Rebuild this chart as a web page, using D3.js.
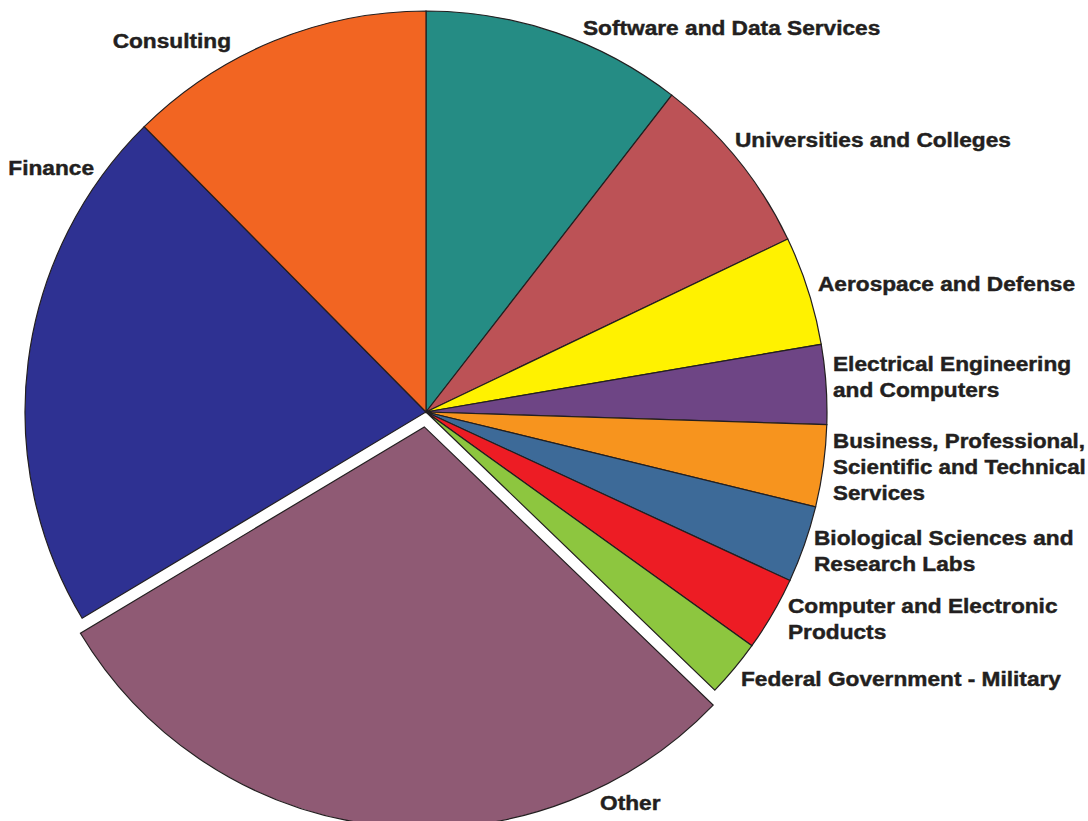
<!DOCTYPE html>
<html>
<head>
<meta charset="utf-8">
<script src="https://cdn.jsdelivr.net/npm/d3@7"></script>
<style>
	body { margin: 0; background: #fff; }
	text { font-family: 'Liberation Sans', Arial, sans-serif; font-weight: bold; fill: #231f20; stroke: #231f20; stroke-width: 0.45; }
</style>
</head>
<body>
<div id="chart"></div>
<script>
// share of each sector, clockwise from 12 o'clock
var sectors = [
	'Software and Data Services',
	'Universities and Colleges',
	'Aerospace and Defense',
	'Electrical Engineering and Computers',
	'Business, Professional, Scientific and Technical Services',
	'Biological Sciences and Research Labs',
	'Computer and Electronic Products',
	'Federal Government - Military',
	'Other',
	'Finance',
	'Consulting',
];
var shares = [10.5, 7.4, 4.4, 3.2, 3.3, 3.1, 3.0, 2.3, 29.2, 21.2, 12.4];
var labelLines = [
	['Software and Data Services'],
	['Universities and Colleges'],
	['Aerospace and Defense'],
	['Electrical Engineering', 'and Computers'],
	['Business, Professional,', 'Scientific and Technical', 'Services'],
	['Biological Sciences and', 'Research Labs'],
	['Computer and Electronic', 'Products'],
	['Federal Government - Military'],
	['Other'],
	['Finance'],
	['Consulting'],
];
var colors = ['#258c84', '#bc5256', '#fff200', '#6e4585', '#f7941e', '#3d6a98', '#ed1c24', '#8dc63f', '#8f5a74', '#2e3192', '#f26522'];

// label anchor spots (x, first baseline, anchor)
var labelPos = [
	[583, 35, 'start'],
	[735, 147, 'start'],
	[818, 291, 'start'],
	[833, 371, 'start'],
	[833, 448, 'start'],
	[814, 545, 'start'],
	[788, 613, 'start'],
	[741, 686, 'start'],
	[600, 810, 'start'],
	[94, 175, 'end'],
	[231, 48, 'end'],
];

var width = 1088, height = 821;
var cx = 426, cy = 412, radius = 401;
var explode = 15;
var stretch = 1.08; // the print face is wider than Liberation

var svg = d3.select('#chart')
	.append('svg')
	.attr('width', width)
	.attr('height', height);

var pie = d3.pie().sort(null).value(function(d) { return d; });
var arc = d3.arc().innerRadius(0).outerRadius(radius);

var g = svg.append('g').attr('transform', 'translate(' + cx + ',' + cy + ')');

g.selectAll('path')
	.data(pie(shares))
	.enter()
	.append('path')
	.attr('d', arc)
	.attr('transform', function(d, i) {
		if (sectors[i] != 'Other') return null;
		var a = (d.startAngle + d.endAngle) / 2;
		return 'translate(' + Math.sin(a) * explode + ',' + -Math.cos(a) * explode + ')';
	})
	.style('fill', function(d, i) { return colors[i]; })
	.style('stroke', '#231f20')
	.style('stroke-width', 1.2)
	.style('stroke-linejoin', 'miter');

var labels = svg.selectAll('.label')
	.data(labelLines)
	.enter()
	.append('text')
	.attr('class', 'label')
	.attr('font-size', 21)
	.attr('text-anchor', function(d, i) { return labelPos[i][2]; });

labels.each(function(lines, i) {
	var t = d3.select(this);
	lines.forEach(function(line, j) {
		t.append('tspan')
			.attr('x', 0)
			.attr('dy', j == 0 ? 0 : 26)
			.text(line);
	});
	// keep the label inside the page on the right
	var w = this.getBBox().width;
	var s = stretch;
	if (labelPos[i][2] == 'start' && labelPos[i][0] + w * s > width - 2) {
		s = (width - 2 - labelPos[i][0]) / w;
	}
	t.attr('transform', 'translate(' + labelPos[i][0] + ',' + labelPos[i][1] + ') scale(' + s + ',1)');
});
</script>
</body>
</html>
